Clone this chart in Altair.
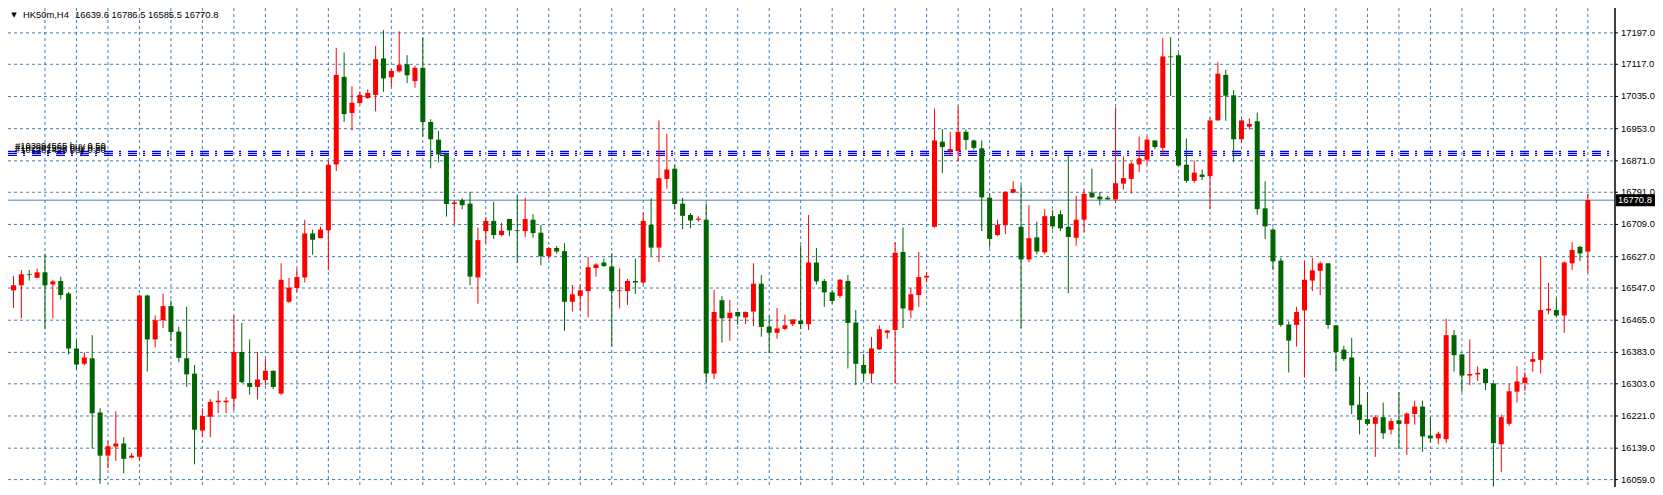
import altair as alt
import pandas as pd

# ---- data (HK50m, H4) ----
opens = [16541, 16554, 16582, 16573, 16587, 16556, 16565, 16533, 16393, 16354,
         16368, 16230, 16120, 16143, 16151, 16115, 16117, 16528, 16416, 16465,
         16501, 16436, 16368, 16329, 16184, 16219, 16256, 16256, 16265, 16384,
         16305, 16295, 16313, 16336, 16278, 16512, 16547, 16574, 16686, 16674,
         16694, 16862, 17085, 16993, 17018, 17031, 17039, 17132, 17084, 17099,
         17117, 17074, 17108, 16970, 16925, 16888, 16761, 16771, 16762, 16574,
         16692, 16718, 16682, 16723, 16694, 16692, 16721, 16688, 16628, 16649,
         16641, 16512, 16527, 16539, 16598, 16612, 16602, 16539, 16539, 16565,
         16561, 16708, 16650, 16825, 16851, 16762, 16733, 16721, 16721, 16329,
         16516, 16470, 16486, 16472, 16487, 16558, 16449, 16433, 16443, 16455,
         16464, 16455, 16612, 16565, 16536, 16527, 16565, 16459, 16351, 16329,
         16391, 16433, 16440, 16639, 16490, 16529, 16574, 16703, 16920, 16896,
         16896, 16945, 16923, 16903, 16777, 16682, 16707, 16790, 16703, 16620,
         16676, 16638, 16730, 16735, 16703, 16675, 16721, 16790, 16780, 16777,
         16773, 16813, 16825, 16862, 16874, 16923, 16904, 17137, 17140, 16861,
         16820, 16836, 16832, 16974, 17090, 17038, 16926, 16958, 16972, 16750,
         16696, 16617, 16454, 16453, 16490, 16566, 16591, 16610, 16452, 16390,
         16370, 16250, 16213, 16201, 16218, 16186, 16210, 16201, 16226, 16245,
         16171, 16164, 16162, 16427, 16378, 16324, 16327, 16341, 16304, 16149,
         16201, 16283, 16305, 16359, 16364, 16490, 16491, 16477, 16610, 16652,
         16639.6]
highs = [16577, 16593, 16593, 16597, 16634, 16568, 16576, 16537, 16414, 16383,
         16427, 16241, 16158, 16233, 16167, 16126, 16530, 16530, 16477, 16533,
         16516, 16449, 16499, 16351, 16241, 16264, 16286, 16269, 16477, 16458,
         16416, 16384, 16366, 16337, 16610, 16573, 16596, 16721, 16696, 16703,
         16872, 17159, 17147, 17061, 17048, 17053, 17164, 17204, 17105, 17201,
         17140, 17113, 17186, 16977, 16947, 16891, 16770, 16776, 16792, 16701,
         16728, 16767, 16713, 16723, 16782, 16777, 16735, 16708, 16652, 16654,
         16661, 16555, 16556, 16627, 16610, 16622, 16636, 16597, 16570, 16622,
         16738, 16775, 16974, 16940, 16861, 16777, 16738, 16730, 16762, 16543,
         16526, 16516, 16487, 16487, 16610, 16580, 16476, 16496, 16479, 16467,
         16656, 16733, 16649, 16570, 16541, 16570, 16580, 16491, 16379, 16422,
         16452, 16440, 16664, 16701, 16548, 16639, 16587, 17004, 16952, 16945,
         17010, 16951, 16925, 16923, 16789, 16721, 16794, 16819, 16809, 16758,
         16716, 16748, 16745, 16745, 16886, 16782, 16797, 16851, 16792, 16782,
         17007, 16882, 16869, 16933, 16933, 16923, 17184, 17186, 17145, 16928,
         16872, 16849, 16981, 17122, 17103, 17051, 16977, 16979, 16994, 16819,
         16701, 16624, 16462, 16499, 16615, 16624, 16615, 16610, 16452, 16400,
         16420, 16321, 16282, 16223, 16255, 16215, 16282, 16230, 16260, 16260,
         16218, 16181, 16469, 16440, 16380, 16416, 16347, 16343, 16305, 16225,
         16302, 16348, 16333, 16384, 16627, 16560, 16521, 16615, 16664, 16654,
         16786.5]
lows = [16496, 16470, 16566, 16573, 16443, 16470, 16518, 16377, 16340, 16350,
        16138, 16048, 16088, 16107, 16075, 16113, 16106, 16334, 16396, 16445,
        16413, 16359, 16295, 16098, 16168, 16167, 16228, 16228, 16236, 16305,
        16275, 16263, 16299, 16290, 16275, 16509, 16536, 16561, 16632, 16674,
        16593, 16845, 16970, 16948, 17015, 17029, 16997, 17047, 17059, 17096,
        17069, 17057, 16933, 16852, 16867, 16729, 16710, 16748, 16554, 16507,
        16661, 16672, 16679, 16679, 16611, 16677, 16675, 16605, 16620, 16635,
        16438, 16487, 16490, 16472, 16576, 16601, 16398, 16495, 16504, 16532,
        16556, 16628, 16613, 16800, 16747, 16697, 16699, 16716, 16306, 16315,
        16408, 16413, 16453, 16455, 16450, 16423, 16381, 16418, 16440, 16450,
        16443, 16440, 16556, 16499, 16507, 16522, 16342, 16300, 16310, 16305,
        16389, 16418, 16303, 16445, 16470, 16499, 16561, 16701, 16840, 16884,
        16869, 16899, 16899, 16692, 16650, 16679, 16684, 16788, 16445, 16613,
        16633, 16633, 16697, 16692, 16534, 16655, 16689, 16777, 16758, 16772,
        16764, 16798, 16788, 16842, 16862, 16901, 16884, 17036, 16857, 16815,
        16815, 16822, 16748, 16974, 16973, 16869, 16916, 16951, 16734, 16672,
        16593, 16448, 16332, 16398, 16319, 16539, 16529, 16443, 16334, 16361,
        16226, 16174, 16196, 16117, 16162, 16174, 16137, 16122, 16199, 16130,
        16154, 16149, 16152, 16334, 16282, 16300, 16310, 16287, 16041, 16078,
        16196, 16255, 16285, 16334, 16329, 16480, 16472, 16433, 16593, 16615,
        16585.5]
closes = [16554, 16582, 16580, 16587, 16554, 16564, 16529, 16393, 16352, 16370,
          16228, 16120, 16144, 16151, 16112, 16120, 16528, 16416, 16465, 16501,
          16435, 16369, 16327, 16186, 16221, 16257, 16260, 16260, 16384, 16307,
          16295, 16314, 16336, 16295, 16568, 16548, 16575, 16686, 16670, 16696,
          16861, 17090, 16990, 17019, 17039, 17044, 17130, 17081, 17100, 17115,
          17089, 17108, 16970, 16926, 16887, 16761, 16765, 16758, 16576, 16669,
          16718, 16682, 16693, 16694, 16692, 16723, 16687, 16628, 16649, 16640,
          16512, 16531, 16541, 16600, 16607, 16603, 16539, 16541, 16565, 16561,
          16718, 16650, 16827, 16849, 16761, 16731, 16719, 16724, 16329, 16486,
          16470, 16484, 16475, 16486, 16558, 16448, 16433, 16444, 16452, 16467,
          16455, 16612, 16564, 16536, 16514, 16568, 16458, 16354, 16329, 16393,
          16442, 16439, 16637, 16495, 16531, 16575, 16578, 16923, 16906, 16901,
          16945, 16924, 16904, 16778, 16672, 16708, 16792, 16799, 16620, 16674,
          16640, 16730, 16704, 16699, 16677, 16721, 16787, 16778, 16773, 16773,
          16814, 16827, 16864, 16877, 16925, 16906, 17137, 17135, 16859, 16820,
          16841, 16830, 16974, 17093, 17037, 16926, 16974, 16965, 16748, 16704,
          16615, 16453, 16413, 16486, 16568, 16592, 16610, 16453, 16384, 16366,
          16248, 16211, 16201, 16218, 16177, 16208, 16201, 16227, 16245, 16169,
          16164, 16176, 16427, 16376, 16324, 16328, 16331, 16305, 16152, 16218,
          16284, 16309, 16319, 16366, 16491, 16494, 16477, 16612, 16644, 16635,
          16770.8]

tick_values = [17197, 17117, 17035, 16953, 16871, 16791, 16709, 16627,
               16547, 16465, 16383, 16303, 16221, 16139, 16059]
vgrid_index = list(range(4, 201, 4))
order_prices = [16895, 16890, 16885]
order_labels = ["#103894565 buy 0.50", "#102801568 buy 0.50", "#101281425 buy 0.50"]
last_price = 16770.8
symbol_text = "HK50m,H4"
ohlc_text = "16639.6 16786.5 16585.5 16770.8"

# ---- layout / style ----
W, H = 1607, 479
AX = 40
FONT = "Liberation Sans"
FS = 9.4
GRID = "#3f7fb8"
UP, DOWN = "#ff0000", "#006400"

df = pd.DataFrame({"i": list(range(len(opens))), "open": opens, "high": highs,
                   "low": lows, "close": closes})
df["dir"] = ["up" if c >= o else "down" for o, c in zip(opens, closes)]

xs = alt.Scale(domain=[-0.0625, 202.8125], nice=False, zero=False)
ys = alt.Scale(domain=[16040.1, 17260.4], nice=False, zero=False)
X = alt.X("i:Q", scale=xs, axis=None)
col = alt.Color("dir:N", scale=alt.Scale(domain=["up", "down"], range=[UP, DOWN]), legend=None)


def Y(field):
    return alt.Y(field, scale=ys, axis=None)


# price scale (right side): grid, axis line, ticks, labels
ticks_df = pd.DataFrame({"p": tick_values, "t": [f"{v:.1f}" for v in tick_values]})
hgrid = alt.Chart(ticks_df).mark_rule(color=GRID, strokeDash=[3, 3], strokeWidth=1).encode(
    y=Y("p:Q"), x=alt.value(0), x2=alt.value(W))
tick_marks = alt.Chart(ticks_df).mark_rule(color="#000000", strokeWidth=1).encode(
    y=Y("p:Q"), x=alt.value(W), x2=alt.value(W + 3))
tick_labels = alt.Chart(ticks_df).mark_text(
    align="left", baseline="middle", font=FONT, fontSize=FS, color="#000000").encode(
    x=alt.value(W + 6), y=Y("p:Q"), text="t:N")
axis_line = alt.Chart(ticks_df.head(1)).mark_rule(color="#000000", strokeWidth=1.5).encode(
    x=alt.value(W), y=alt.value(0), y2=alt.value(H))

vgrid = alt.Chart(pd.DataFrame({"i": vgrid_index})).mark_rule(
    color=GRID, strokeDash=[3, 3], strokeWidth=1).encode(x=X)

orders = pd.DataFrame({"p": order_prices, "label": order_labels})
order_lines = alt.Chart(orders).mark_rule(
    color="#0000ff", strokeWidth=1.2, strokeDash=[9, 6, 2, 7]).encode(
    y=Y("p:Q"), x=alt.value(0), x2=alt.value(W - 4))
order_text = alt.Chart(orders).mark_text(
    align="left", baseline="alphabetic", font=FONT, fontSize=FS, color="#000000", dy=-2).encode(
    x=alt.value(7), y=Y("p:Q"), text="label:N")

lp = pd.DataFrame({"p": [last_price], "t": [f"{last_price:.1f}"]})
price_line = alt.Chart(lp).mark_rule(color="#4682b4", strokeWidth=1).encode(
    y=Y("p:Q"), x=alt.value(0), x2=alt.value(W))

wick = alt.Chart(df).mark_rule(strokeWidth=1).encode(
    x=X, y=Y("low:Q"), y2="high:Q", color=col)
body = alt.Chart(df).mark_bar(size=5).encode(
    x=X, y=Y("open:Q"), y2="close:Q", color=col)

tag_box = alt.Chart(lp).mark_rule(color="#000000", strokeWidth=12, strokeCap="butt").encode(
    x=alt.value(W + 1), x2=alt.value(W + AX), y=Y("p:Q"))
tag_text = alt.Chart(lp).mark_text(
    align="left", baseline="middle", font=FONT, fontSize=FS, color="#ffffff").encode(
    x=alt.value(W + 3), y=Y("p:Q"), text="t:N")

hdr = pd.DataFrame({"a": ["\u25bc"], "s": [symbol_text], "o": [ohlc_text]})
tri = alt.Chart(hdr).mark_text(font="DejaVu Sans", fontSize=7, color="#000000",
                               align="center", baseline="middle").encode(
    x=alt.value(6), y=alt.value(6.5), text="a:N")
sym = alt.Chart(hdr).mark_text(font=FONT, fontSize=FS, color="#000000",
                               align="left", baseline="middle").encode(
    x=alt.value(15), y=alt.value(6.5), text="s:N")
ohlc = alt.Chart(hdr).mark_text(font=FONT, fontSize=FS, color="#000000",
                                align="left", baseline="middle").encode(
    x=alt.value(67), y=alt.value(6.5), text="o:N")

chart = alt.layer(
    hgrid, vgrid, order_lines, order_text, price_line, wick, body,
    axis_line, tick_marks, tick_labels, tag_box, tag_text, tri, sym, ohlc
).properties(
    width=W, height=H,
    autosize=alt.AutoSizeParams(type="none"),
    padding={"left": 0, "top": 0, "right": AX, "bottom": 0},
    background="#ffffff",
).configure_view(strokeWidth=0)

chart.save("out.html", embed_options={"renderer": "svg", "actions": False})
